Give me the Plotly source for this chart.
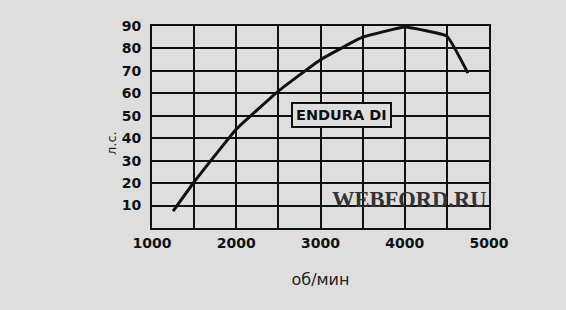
import plotly.graph_objects as go

rpm = [1250, 1500, 2000, 2500, 3000, 3500, 4000, 4500, 4750]
hp = [7.5, 20.5, 44, 61, 75, 85, 89.5, 85.5, 69]

x_tickvals = [1000, 1500, 2000, 2500, 3000, 3500, 4000, 4500, 5000]
x_ticktext = ["1000", "", "2000", "", "3000", "", "4000", "", "5000"]
y_tickvals = [10, 20, 30, 40, 50, 60, 70, 80, 90]
y_ticktext = ["10", "20", "30", "40", "50", "60", "70", "80", "90"]

label_text = "ENDURA DI"
watermark = "WEBFORD.RU"
x_title = "об/мин"
y_title = "л.с."

bg = "#dedede"

fig = go.Figure()
fig.add_trace(go.Scatter(x=rpm, y=hp, mode="lines",
                         line=dict(color="#111111", width=3, shape="spline", smoothing=0.3),
                         showlegend=False, hoverinfo="skip"))

fig.add_annotation(x=3250, y=50.5, xref="x", yref="y", text="<b>" + label_text + "</b>",
                   showarrow=False, font=dict(family="DejaVu Sans", size=14.5, color="#111"),
                   bgcolor=bg, bordercolor="#111", borderwidth=2, borderpad=3)

fig.add_annotation(x=4050, y=12.5, xref="x", yref="y", text="<b>" + watermark + "</b>",
                   showarrow=False,
                   font=dict(family="Liberation Serif", size=22.5, color="#333333"))

fig.add_annotation(x=(111 - 152) / (566 - 152 - 77), y=(310 - 82 - 143) / (310 - 26 - 82),
                   xref="paper", yref="paper", text=y_title,
                   showarrow=False, textangle=-90, xanchor="center", yanchor="middle",
                   font=dict(family="DejaVu Sans", size=13, color="#222"))

fig.update_layout(
    width=566, height=310,
    margin=dict(l=152, r=77, t=26, b=82),
    paper_bgcolor=bg, plot_bgcolor=bg,
    xaxis=dict(range=[1000, 5000], tickvals=x_tickvals, ticktext=x_ticktext,
               showgrid=True, gridcolor="#111", gridwidth=2,
               showline=True, linecolor="#111", linewidth=2, mirror=True,
               zeroline=False, ticks="", ticklabelstandoff=1,
               tickfont=dict(family="DejaVu Sans", size=14, color="#111", weight="bold"),
               title=dict(text=x_title, font=dict(family="DejaVu Sans", size=16, color="#222"),
                          standoff=24)),
    yaxis=dict(range=[0, 90], tickvals=y_tickvals, ticktext=y_ticktext,
               showgrid=True, gridcolor="#111", gridwidth=2,
               showline=True, linecolor="#111", linewidth=2, mirror=True,
               zeroline=False, ticks="", ticklabelstandoff=6,
               tickfont=dict(family="DejaVu Sans", size=14, color="#111", weight="bold")),
)

fig.write_html("out.html")
